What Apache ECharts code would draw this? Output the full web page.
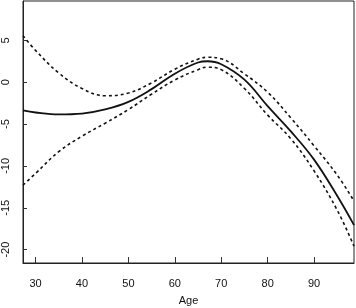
<!DOCTYPE html>
<html>
<head>
<meta charset="utf-8">
<script src="https://cdn.jsdelivr.net/npm/echarts@6/dist/echarts.min.js"></script>
<style>
  html, body { margin: 0; padding: 0; background: #fff; }
  #chart { width: 356px; height: 308px; }
</style>
</head>
<body>
<div id="chart"></div>
<script>
// values
var ages = [27.3, 30, 35, 40, 45, 50, 55, 60, 65, 67, 70, 75, 80, 85, 90, 95, 98.6];
var fit = [-3.37, -3.62, -3.85, -3.75, -3.25, -2.35, -0.83, 1.02, 2.35, 2.5, 2.15, 0.3, -2.86, -5.88, -9.25, -13.6, -17.07];
var upper = [5.56, 3.8, 1.1, -0.75, -1.62, -1.3, -0.08, 1.55, 2.75, 2.98, 2.8, 1.0, -1.2, -4.27, -7.6, -11.1, -14.2];
var lower = [-12.3, -10.9, -8.3, -6.45, -4.9, -3.27, -1.43, 0.26, 1.5, 1.79, 1.5, -0.75, -3.93, -6.76, -10.6, -15.3, -19.6];
var xTicks = [30, 40, 50, 60, 70, 80, 90];
var yTicks = [-20, -15, -10, -5, 0, 5];

function pairs(ys) {
  return ages.map(function (a, i) { return [a, ys[i]]; });
}

var chart = echarts.init(document.getElementById("chart"));
var font = "Liberation Sans";

var option = {
  animation: false,
  grid: {
    left: 23,
    right: 2,
    top: 1,
    bottom: 45,
    outerBoundsMode: "none",
    containLabel: false,
    show: true,
    borderColor: "#222",
    borderWidth: 1,
    backgroundColor: "transparent"
  },
  xAxis: {
    type: "value",
    min: 27.3,
    max: 98.6,
    name: "Age",
    nameLocation: "middle",
    nameGap: 32,
    nameTextStyle: { color: "#111", fontSize: 11, fontFamily: font },
    axisLine: { show: true, onZero: false, lineStyle: { color: "#222", width: 1 } },
    // ticks come out drawn inwards here, so flip them
    axisTick: { show: true, inside: true, length: 6, customValues: xTicks, lineStyle: { color: "#333", width: 1 } },
    axisLabel: { customValues: xTicks, margin: 15, color: "#111", fontSize: 11, fontFamily: font },
    splitLine: { show: false }
  },
  yAxis: {
    type: "value",
    min: -21.6,
    max: 9.7,
    axisLine: { show: true, onZero: false, lineStyle: { color: "#222", width: 1 } },
    axisTick: { show: true, inside: true, length: 4, customValues: yTicks, lineStyle: { color: "#333", width: 1 } },
    axisLabel: { customValues: yTicks, rotate: 90, margin: 12, color: "#111", fontSize: 11, fontFamily: font },
    splitLine: { show: false }
  },
  series: [
    {
      name: "fit",
      type: "line",
      smooth: 0.4,
      showSymbol: false,
      lineStyle: { color: "#111", width: 1.8 },
      data: pairs(fit)
    },
    {
      name: "upper",
      type: "line",
      smooth: 0.4,
      showSymbol: false,
      lineStyle: { color: "#111", width: 1.6, type: [3, 3] },
      data: pairs(upper)
    },
    {
      name: "lower",
      type: "line",
      smooth: 0.4,
      showSymbol: false,
      lineStyle: { color: "#111", width: 1.6, type: [3, 3] },
      data: pairs(lower)
    }
  ]
};

chart.setOption(option);
</script>
</body>
</html>
